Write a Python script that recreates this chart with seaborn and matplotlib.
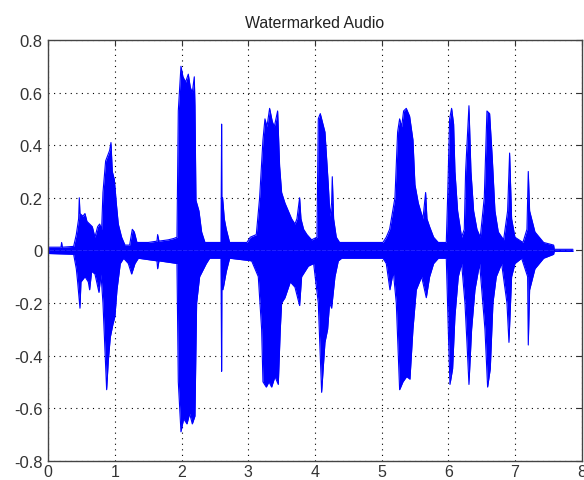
import matplotlib
matplotlib.use("Agg")
import matplotlib.pyplot as plt
import seaborn as sns
import pandas as pd

# Upper envelope of the waveform (time in s, amplitude)
t_upper = [0.00, 0.19, 0.20, 0.21, 0.38, 0.42, 0.455, 0.465, 0.475, 0.52, 0.55, 0.58, 0.62, 0.66,
           0.70, 0.74, 0.77, 0.80, 0.82, 0.86, 0.89, 0.92, 0.94, 0.96, 0.99, 1.02, 1.05, 1.10,
           1.15, 1.22, 1.26, 1.29, 1.33, 1.50, 1.63, 1.64, 1.66, 1.80, 1.88, 1.93, 1.95, 1.99,
           2.02, 2.06, 2.10, 2.13, 2.16, 2.19, 2.20, 2.215, 2.26, 2.30, 2.35, 2.59, 2.60, 2.605,
           2.615, 2.64, 2.67, 2.72, 2.98, 3.03, 3.12, 3.17, 3.22, 3.25, 3.28, 3.32, 3.36, 3.39,
           3.44, 3.47, 3.50, 3.55, 3.60, 3.65, 3.70, 3.73, 3.77, 3.79, 3.83, 3.88, 3.95, 4.03,
           4.05, 4.08, 4.12, 4.15, 4.175, 4.20, 4.225, 4.25, 4.26, 4.28, 4.32, 4.37, 5.02, 5.07,
           5.12, 5.20, 5.24, 5.27, 5.30, 5.33, 5.37, 5.42, 5.47, 5.50, 5.55, 5.62, 5.66, 5.68,
           5.72, 5.78, 5.85, 5.97, 5.99, 6.02, 6.05, 6.08, 6.10, 6.14, 6.20, 6.24, 6.26, 6.29,
           6.31, 6.34, 6.38, 6.43, 6.48, 6.54, 6.58, 6.62, 6.66, 6.70, 6.75, 6.83, 6.89, 6.92,
           6.95, 7.00, 7.12, 7.18, 7.20, 7.22, 7.30, 7.43, 7.58, 7.59, 7.87]
amp_upper = [0.012, 0.012, 0.03, 0.012, 0.015, 0.06, 0.12, 0.20, 0.14, 0.13, 0.14, 0.11, 0.10, 0.09,
             0.05, 0.09, 0.10, 0.08, 0.22, 0.34, 0.36, 0.38, 0.41, 0.30, 0.27, 0.18, 0.10, 0.05,
             0.02, 0.02, 0.08, 0.07, 0.03, 0.03, 0.035, 0.06, 0.035, 0.04, 0.045, 0.05, 0.53, 0.70,
             0.66, 0.64, 0.67, 0.62, 0.60, 0.66, 0.55, 0.19, 0.15, 0.07, 0.03, 0.03, 0.48, 0.03,
             0.20, 0.12, 0.08, 0.03, 0.03, 0.05, 0.06, 0.20, 0.42, 0.50, 0.47, 0.54, 0.49, 0.47,
             0.53, 0.32, 0.22, 0.18, 0.15, 0.12, 0.10, 0.12, 0.20, 0.12, 0.08, 0.06, 0.04, 0.05,
             0.50, 0.52, 0.48, 0.45, 0.35, 0.25, 0.13, 0.18, 0.28, 0.12, 0.05, 0.03, 0.03, 0.05,
             0.08, 0.20, 0.45, 0.50, 0.47, 0.53, 0.54, 0.51, 0.42, 0.25, 0.18, 0.12, 0.22, 0.12,
             0.09, 0.05, 0.03, 0.03, 0.20, 0.50, 0.54, 0.48, 0.30, 0.15, 0.05, 0.08, 0.30, 0.45,
             0.55, 0.30, 0.15, 0.08, 0.05, 0.20, 0.53, 0.52, 0.35, 0.15, 0.07, 0.04, 0.15, 0.37,
             0.12, 0.05, 0.03, 0.08, 0.30, 0.15, 0.07, 0.03, 0.02, 0.004, 0.004]

# Lower envelope of the waveform (time in s, amplitude)
t_lower = [0.00, 0.38, 0.42, 0.44, 0.475, 0.49, 0.55, 0.60, 0.62, 0.65, 0.70, 0.76, 0.79, 0.82,
           0.85, 0.875, 0.90, 0.93, 0.97, 1.00, 1.03, 1.08, 1.13, 1.20, 1.25, 1.30, 1.35, 1.63,
           1.64, 1.66, 1.93, 1.95, 1.99, 2.03, 2.08, 2.12, 2.16, 2.20, 2.225, 2.27, 2.37, 2.42,
           2.59, 2.60, 2.605, 2.62, 2.67, 2.72, 3.05, 3.15, 3.20, 3.22, 3.27, 3.31, 3.35, 3.40,
           3.45, 3.48, 3.50, 3.55, 3.63, 3.70, 3.77, 3.80, 3.90, 3.98, 4.05, 4.10, 4.15, 4.19,
           4.22, 4.25, 4.30, 4.35, 4.40, 5.02, 5.07, 5.125, 5.175, 5.22, 5.27, 5.32, 5.375, 5.425,
           5.47, 5.52, 5.60, 5.67, 5.72, 5.78, 5.85, 5.97, 6.00, 6.025, 6.065, 6.10, 6.15, 6.20,
           6.25, 6.28, 6.31, 6.35, 6.40, 6.47, 6.55, 6.59, 6.63, 6.67, 6.72, 6.80, 6.88, 6.91,
           6.95, 7.00, 7.10, 7.19, 7.20, 7.22, 7.30, 7.43, 7.58, 7.59, 7.87]
amp_lower = [-0.012, -0.015, -0.07, -0.12, -0.22, -0.12, -0.10, -0.12, -0.15, -0.08, -0.09, -0.16,
             -0.09, -0.20, -0.38, -0.53, -0.42, -0.33, -0.28, -0.25, -0.15, -0.05, -0.03, -0.05,
             -0.09, -0.05, -0.03, -0.04, -0.07, -0.04, -0.05, -0.50, -0.69, -0.64, -0.66, -0.62,
             -0.66, -0.63, -0.20, -0.10, -0.05, -0.03, -0.03, -0.46, -0.03, -0.15, -0.08, -0.03,
             -0.04, -0.10, -0.30, -0.50, -0.52, -0.50, -0.52, -0.48, -0.51, -0.30, -0.20, -0.18,
             -0.12, -0.14, -0.21, -0.10, -0.06, -0.05, -0.20, -0.54, -0.35, -0.30, -0.20, -0.22,
             -0.10, -0.04, -0.03, -0.03, -0.05, -0.15, -0.08, -0.20, -0.53, -0.50, -0.48, -0.49,
             -0.30, -0.15, -0.10, -0.18, -0.10, -0.05, -0.03, -0.03, -0.30, -0.51, -0.45, -0.25,
             -0.10, -0.05, -0.20, -0.35, -0.51, -0.30, -0.15, -0.05, -0.30, -0.52, -0.45, -0.20,
             -0.10, -0.05, -0.20, -0.35, -0.10, -0.05, -0.03, -0.10, -0.36, -0.15, -0.07, -0.03,
             -0.015, -0.004, -0.004]

x_ticks = [0, 1, 2, 3, 4, 5, 6, 7, 8]
y_ticks = [-0.8, -0.6, -0.4, -0.2, 0, 0.2, 0.4, 0.6, 0.8]
x_labels = ["0", "1", "2", "3", "4", "5", "6", "7", "8"]
y_labels = ["-0.8", "-0.6", "-0.4", "-0.2", "0", "0.2", "0.4", "0.6", "0.8"]
title = "Watermarked Audio"

sns.set_style("white")
plt.rcParams["font.family"] = ["Liberation Sans", "DejaVu Sans"]

fig = plt.figure(figsize=(5.84, 4.81), dpi=100)
ax = fig.add_axes([0.0827, 0.0401, 0.9132, 0.8747])

blue = "#0000ff"
up = pd.DataFrame({"t": t_upper, "a": amp_upper})
lo = pd.DataFrame({"t": t_lower, "a": amp_lower})
sns.lineplot(data=up, x="t", y="a", ax=ax, color=blue, linewidth=0.8, sort=False, zorder=3)
sns.lineplot(data=lo, x="t", y="a", ax=ax, color=blue, linewidth=0.8, sort=False, zorder=3)
ax.fill_between(up["t"], 0, up["a"], color=blue, linewidth=0, zorder=3)
ax.fill_between(lo["t"], lo["a"], 0, color=blue, linewidth=0, zorder=3)

ax.set_xlim(0, 8)
ax.set_ylim(-0.8, 0.8)
ax.set_xticks(x_ticks)
ax.set_xticklabels(x_labels)
ax.set_yticks(y_ticks)
ax.set_yticklabels(y_labels)
ax.set_xlabel("")
ax.set_ylabel("")
ax.set_axisbelow(True)
ax.grid(True, linestyle=(0, (1, 4)), color="black", linewidth=0.8, zorder=0)
for s in ax.spines.values():
    s.set_visible(True)
    s.set_color("#444444")
    s.set_linewidth(1.0)
    s.set_zorder(5)
ax.tick_params(direction="in", length=4, width=0.8, top=True, right=True,
               labelsize=12, colors="#333333")
ax.tick_params(axis="y", pad=4)
ax.tick_params(axis="x", pad=2.5, labelsize=11.5)
ax.set_title(title, fontsize=11.4, color="#222222", pad=9)

fig.savefig("out.png", dpi=100)
